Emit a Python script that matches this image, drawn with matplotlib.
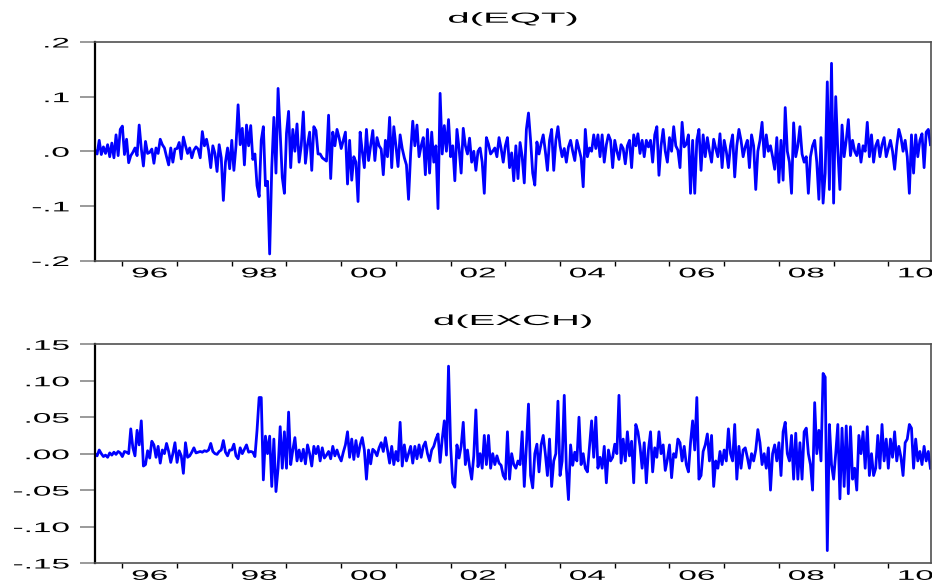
import numpy as np
import matplotlib
matplotlib.use("Agg")
import matplotlib.pyplot as plt
from matplotlib.patheffects import AbstractPathEffect
from matplotlib.transforms import Affine2D
from matplotlib.ticker import NullFormatter

start_year = 1995.5
per_year = 26

eqt = [
    # 1995 (second half)
    0.002, -0.005, 0.020, -0.006, 0.008, -0.004, 0.012, -0.010, 0.015, -0.012, 0.030, -0.008, 0.040,
    # 1996
    0.046, -0.006, 0.022, -0.021, -0.008, -0.002, 0.006, -0.008, 0.048, 0.005, -0.027, 0.018, -0.004,
    -0.002, 0.004, -0.022, 0.006, -0.004, 0.022, 0.012, 0.006, -0.010, -0.025, 0.006, -0.020, 0.004,
    # 1997
    0.005, 0.016, -0.014, 0.026, 0.010, -0.004, 0.006, -0.012, 0.002, 0.008, 0.004, -0.012, 0.036,
    0.010, 0.022, 0.002, -0.030, 0.010, -0.004, -0.037, 0.012, -0.012, -0.090, -0.020, 0.006, -0.032,
    # 1998
    0.020, -0.035, 0.010, 0.085, 0.012, 0.042, -0.025, 0.048, 0.010, 0.047, -0.015, -0.005, -0.063,
    -0.083, 0.020, 0.045, -0.063, -0.055, -0.188, -0.030, 0.062, -0.040, 0.115, 0.035, -0.048, -0.077,
    # 1999
    0.033, 0.073, -0.030, 0.040, 0.000, 0.050, -0.020, 0.010, 0.072, -0.022, 0.012, 0.035, -0.035,
    0.045, 0.038, -0.005, -0.005, -0.012, -0.015, -0.018, 0.066, -0.050, 0.035, 0.010, 0.040, 0.025,
    # 2000
    0.005, 0.020, 0.035, -0.060, 0.020, -0.053, -0.010, -0.020, -0.092, 0.035, 0.000, -0.030, 0.040,
    -0.017, 0.010, 0.038, -0.017, 0.025, 0.010, 0.004, -0.043, 0.020, -0.010, 0.062, -0.030, 0.045,
    # 2001
    0.010, -0.028, 0.030, 0.005, -0.012, -0.025, -0.088, -0.004, 0.055, 0.010, 0.048, -0.010, 0.010,
    0.025, -0.043, 0.040, -0.040, 0.035, -0.020, 0.010, -0.105, 0.106, -0.005, 0.047, 0.000, 0.058,
    # 2002
    -0.010, 0.010, -0.054, 0.040, 0.005, -0.040, 0.042, 0.010, -0.005, 0.024, -0.020, 0.000, -0.035,
    0.000, 0.006, -0.020, -0.077, 0.025, 0.013, -0.005, 0.000, 0.006, -0.010, 0.025, 0.005, -0.020,
    # 2003
    0.010, 0.025, -0.030, -0.003, -0.054, 0.010, -0.050, 0.016, -0.010, -0.058, 0.040, 0.070, 0.020,
    -0.040, -0.062, 0.017, -0.005, 0.014, 0.030, 0.000, -0.035, 0.020, 0.040, -0.035, 0.020, 0.045,
    # 2004
    0.010, -0.010, 0.005, -0.020, 0.008, 0.020, 0.000, -0.017, 0.020, 0.004, -0.012, -0.065, 0.040,
    -0.010, 0.006, 0.000, 0.030, 0.005, 0.030, -0.010, 0.030, -0.020, 0.012, 0.030, 0.020, -0.030,
    # 2005
    0.020, 0.000, -0.015, 0.012, 0.005, -0.023, 0.010, 0.020, -0.030, 0.030, 0.010, 0.032, -0.004,
    0.020, -0.010, 0.020, 0.008, 0.020, -0.020, 0.030, 0.045, -0.044, 0.010, 0.040, 0.000, -0.020,
    # 2006
    0.025, 0.000, 0.045, 0.010, 0.002, -0.030, 0.053, 0.008, 0.013, 0.030, -0.077, 0.020, -0.077,
    0.020, 0.040, -0.035, 0.030, -0.010, 0.025, 0.000, -0.020, 0.022, 0.005, -0.010, 0.032, -0.030,
    # 2007
    0.020, 0.000, -0.030, 0.010, 0.030, -0.047, 0.010, 0.040, 0.020, -0.010, 0.008, 0.020, -0.030,
    0.030, 0.010, -0.070, 0.000, 0.020, 0.053, -0.010, 0.030, 0.000, 0.010, -0.010, -0.033, 0.025,
    # 2008
    -0.057, 0.020, -0.053, 0.080, 0.000, -0.020, -0.077, 0.052, -0.010, 0.010, 0.045, -0.005, -0.020,
    -0.010, -0.077, -0.010, 0.010, 0.020, -0.020, -0.088, 0.025, -0.095, -0.040, 0.127, -0.070, 0.161,
    # 2009
    -0.095, 0.100, 0.000, -0.070, 0.048, -0.010, 0.020, 0.058, -0.008, 0.020, 0.000, -0.008, 0.013,
    -0.020, 0.010, 0.000, 0.053, -0.010, 0.030, -0.020, 0.010, 0.020, -0.010, 0.012, 0.025, -0.010,
    # 2010
    0.005, 0.020, 0.000, -0.033, 0.010, 0.040, 0.025, 0.000, 0.020, -0.010, -0.077, 0.030, -0.040,
    0.030, -0.010, 0.020, 0.032, -0.030, 0.035, 0.040, 0.012,
]

exch = [
    # 1995 (second half)
    0.000, -0.003, 0.005, 0.000, -0.004, -0.002, -0.005, 0.001, -0.002, 0.002, -0.001, 0.003, 0.001,
    # 1996
    -0.004, 0.003, 0.002, 0.000, 0.034, 0.008, -0.003, 0.032, 0.012, 0.045, -0.017, -0.015, 0.004,
    -0.006, 0.017, 0.012, -0.005, 0.010, -0.013, 0.005, 0.000, 0.014, 0.003, -0.012, 0.000, 0.015,
    # 1997
    -0.012, 0.004, -0.003, -0.027, 0.015, -0.005, -0.003, 0.002, 0.008, 0.001, 0.002, 0.003, 0.002,
    0.004, 0.003, 0.005, 0.014, 0.003, 0.000, -0.001, 0.003, 0.005, 0.018, 0.002, -0.003, 0.005,
    # 1998
    0.005, 0.013, -0.003, -0.007, 0.008, 0.000, 0.006, 0.012, 0.002, 0.003, 0.002, -0.004, 0.032,
    0.077, 0.077, -0.036, 0.024, 0.000, 0.024, -0.045, 0.020, -0.052, -0.020, 0.037, -0.020, 0.030,
    # 1999
    -0.020, 0.057, -0.015, 0.005, 0.022, -0.010, 0.005, -0.010, 0.006, -0.014, 0.012, 0.000, -0.017,
    0.010, 0.000, 0.010, -0.010, 0.008, -0.006, -0.002, 0.003, -0.007, 0.010, -0.003, 0.005, -0.004,
    # 2000
    -0.010, 0.002, 0.012, 0.030, -0.005, 0.020, -0.008, 0.018, -0.004, 0.012, 0.022, 0.005, -0.035,
    0.005, -0.014, 0.006, 0.003, -0.003, 0.008, 0.015, 0.003, 0.022, 0.005, -0.013, 0.010, -0.015,
    # 2001
    0.003, -0.010, 0.043, -0.017, 0.012, -0.010, 0.000, 0.010, -0.013, 0.010, -0.007, 0.012, -0.005,
    0.010, 0.016, 0.000, -0.010, 0.005, 0.010, 0.020, 0.027, -0.012, 0.020, 0.045, -0.002, 0.120,
    # 2002
    0.010, -0.040, -0.046, 0.012, -0.006, 0.010, 0.043, -0.015, 0.005, -0.018, -0.035, -0.003, 0.060,
    -0.018, 0.000, -0.020, 0.025, -0.015, 0.025, -0.020, 0.000, -0.015, -0.003, -0.013, -0.016, -0.030,
    # 2003
    -0.035, 0.030, -0.035, 0.000, -0.015, -0.020, -0.010, -0.015, 0.030, -0.045, 0.010, 0.068, -0.030,
    -0.047, 0.000, 0.013, -0.025, 0.012, 0.025, 0.000, -0.030, 0.020, -0.045, -0.010, 0.000, 0.072,
    # 2004
    -0.030, -0.010, 0.080, -0.020, -0.063, 0.012, -0.016, 0.002, -0.010, 0.050, -0.015, 0.000, -0.020,
    -0.025, 0.010, 0.045, -0.005, 0.050, -0.020, -0.005, -0.020, 0.010, -0.040, 0.005, -0.010, -0.005,
    # 2005
    0.013, 0.000, 0.080, -0.013, 0.020, -0.010, 0.030, -0.003, 0.017, -0.040, 0.040, 0.030, 0.010,
    -0.020, 0.015, -0.040, 0.005, 0.030, -0.025, 0.008, -0.005, 0.030, 0.000, 0.012, -0.023, -0.008,
    # 2006
    0.012, -0.033, 0.000, -0.005, 0.020, 0.015, -0.010, 0.010, -0.015, -0.025, 0.015, 0.045, 0.005,
    0.077, -0.035, -0.030, 0.003, 0.012, 0.027, -0.010, 0.025, -0.045, -0.010, -0.020, 0.003, -0.015,
    # 2007
    0.005, -0.010, 0.034, 0.000, -0.010, 0.040, -0.035, 0.010, -0.020, 0.005, 0.008, -0.005, -0.020,
    0.000, -0.010, 0.005, 0.033, 0.015, -0.015, 0.000, -0.020, 0.008, -0.050, 0.000, 0.012, -0.010,
    # 2008
    0.015, -0.030, 0.030, 0.043, 0.000, -0.010, 0.025, -0.035, 0.028, -0.035, 0.015, -0.035, 0.030,
    0.035, 0.000, -0.015, -0.050, 0.070, 0.000, 0.032, -0.010, 0.110, 0.105, -0.133, 0.040, -0.015,
    # 2009
    -0.035, 0.000, 0.040, -0.062, 0.035, -0.045, 0.038, -0.055, 0.037, -0.035, -0.020, -0.050, 0.025,
    0.000, 0.030, -0.020, 0.037, -0.030, 0.000, -0.030, -0.020, 0.025, -0.020, 0.040, -0.010, 0.020,
    # 2010
    -0.020, 0.020, -0.005, 0.030, -0.010, 0.010, -0.005, -0.030, 0.015, 0.020, 0.040, 0.035, -0.020,
    0.020, -0.010, 0.003, -0.015, 0.010, -0.010, 0.003, -0.020,
]

titles = ["d(EQT)", "d(EXCH)"]
eqt_ticks = [-0.2, -0.1, 0.0, 0.1, 0.2]
eqt_ticklabels = ["-.2", "-.1", ".0", ".1", ".2"]
exch_ticks = [-0.15, -0.10, -0.05, 0.00, 0.05, 0.10, 0.15]
exch_ticklabels = ["-.15", "-.10", "-.05", ".00", ".05", ".10", ".15"]
label_years = [1996, 1998, 2000, 2002, 2004, 2006, 2008, 2010]
year_labels = ["96", "98", "00", "02", "04", "06", "08", "10"]
tick_years = list(range(1996, 2011))


# --------------- horizontally widened lettering (text stays real text) ---------------
class HStretch(AbstractPathEffect):
    def __init__(self, sx, anchor="center"):
        super().__init__()
        self.sx = sx
        self.anchor = anchor

    def draw_path(self, renderer, gc, tpath, affine, rgbFace=None):
        ext = tpath.get_extents()
        if self.anchor == "right":
            cx = ext.x1
        elif self.anchor == "left":
            cx = ext.x0
        else:
            cx = 0.5 * (ext.x0 + ext.x1)
        t = Affine2D().translate(-cx, 0).scale(self.sx, 1.0).translate(cx, 0)
        renderer.draw_path(gc, tpath, t + affine, rgbFace)


plt.rcParams["font.family"] = ["Liberation Sans", "DejaVu Sans"]

W, H = 932, 585
fig = plt.figure(figsize=(W / 100, H / 100), dpi=100)
ax1 = fig.add_axes([95 / W, 1 - 260.5 / H, 836 / W, 218.5 / H])
ax2 = fig.add_axes([95 / W, 1 - 563 / H, 836 / W, 218.7 / H])


def style(ax, values, title, yt, ytl, ylim):
    x = start_year + np.arange(len(values)) / per_year
    ax.plot(x, values, color="#0000FF", lw=2.0)
    ax.set_xlim(1995.5, 2010.78)
    ax.set_ylim(*ylim)

    ax.set_yticks(yt)
    ylabs = ax.set_yticklabels(ytl)
    ax.tick_params(axis="y", direction="out", length=10.8, width=1.4,
                   color="#9a9a9a", pad=7.9, labelsize=10, labelcolor="black")
    for lab in ylabs:
        lab.set_path_effects([HStretch(2.4, "right")])

    ax.set_xticks(tick_years)
    ax.xaxis.set_major_formatter(NullFormatter())
    ax.set_xticks([y + 0.5 for y in label_years], minor=True)
    xlabs = ax.set_xticklabels(year_labels, minor=True)
    ax.tick_params(axis="x", which="major", direction="out", length=3.8,
                   width=1.0, color="black")
    ax.tick_params(axis="x", which="minor", length=0, pad=4.2, labelsize=10)
    for lab in xlabs:
        lab.set_path_effects([HStretch(2.4, "center")])

    for side in ("top", "right", "bottom"):
        ax.spines[side].set_color("#505050")
        ax.spines[side].set_linewidth(1.2)
    ax.spines["left"].set_color("black")
    ax.spines["left"].set_linewidth(1.6)

    t = ax.set_title(title, fontsize=10.5, pad=13.9)
    t.set_path_effects([HStretch(2.75, "center")])


style(ax1, eqt, titles[0], eqt_ticks, eqt_ticklabels, (-0.2, 0.2))
style(ax2, exch, titles[1], exch_ticks, exch_ticklabels, (-0.15, 0.15))

fig.savefig("out.png", dpi=100)
